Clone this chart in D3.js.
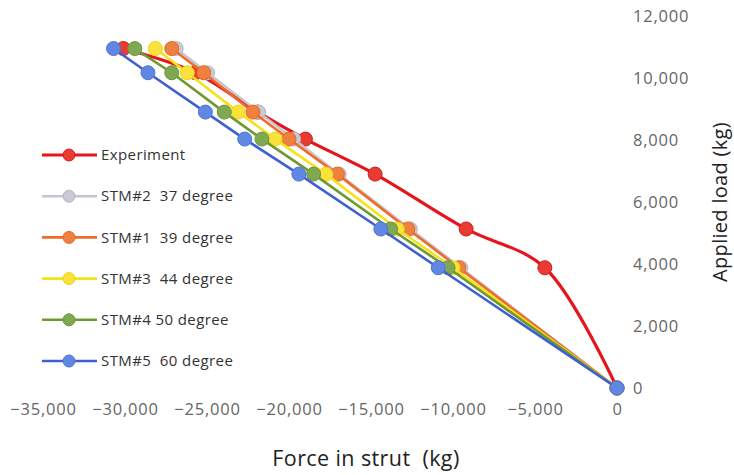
<!DOCTYPE html>
<html>
<head>
<meta charset="utf-8">
<script src="https://cdn.jsdelivr.net/npm/d3@7"></script>
<style>
  html, body { margin: 0; padding: 0; background: #fff; }
  svg { display: block; }
  svg text { white-space: pre; }
</style>
</head>
<body>
<svg id="chart" width="734" height="475"></svg>
<script>
// Applied load levels (kg), shared by every series
const loads = [0, 3880, 5130, 6900, 8030, 8900, 10170, 10950];

// Force in strut (kg) for each series at those load levels
const experiment = [0, -4400, -9200, -14750, -19000, -21900, -25700, -30100];
const stm2_37 = [0, -9520, -12600, -16940, -19720, -21850, -24970, -26880];
const stm1_39 = [0, -9650, -12750, -17050, -20000, -22200, -25200, -27150];
const stm3_44 = [0, -10000, -13400, -17750, -20850, -23100, -26200, -28150];
const stm4_50 = [0, -10300, -13800, -18500, -21650, -23950, -27150, -29400];
const stm5_60 = [0, -10900, -14400, -19400, -22700, -25100, -28600, -30700];

const seriesNames = ["Experiment", "STM#2  37 degree", "STM#1  39 degree",
                     "STM#3  44 degree", "STM#4 50 degree", "STM#5  60 degree"];

const xTicks = [-35000, -30000, -25000, -20000, -15000, -10000, -5000, 0];
const yTicks = [0, 2000, 4000, 6000, 8000, 10000, 12000];

const styles = [
  { line: "#e8141c", fill: "#ea3b32", stroke: "#d01a1a", width: 3.2, smooth: true },
  { line: "#c4c6d0", fill: "#c9cad4", stroke: "#b4b6c2", width: 2.4 },
  { line: "#f06a2a", fill: "#f0803e", stroke: "#e4662a", width: 2.6 },
  { line: "#f6e21a", fill: "#fbe23a", stroke: "#ecd21a", width: 2.6 },
  { line: "#6e9a30", fill: "#7fa852", stroke: "#6c963c", width: 2.6 },
  { line: "#3f5fd2", fill: "#6088e2", stroke: "#4f74d4", width: 2.6 }
];

const seriesValues = [experiment, stm2_37, stm1_39, stm3_44, stm4_50, stm5_60];
const series = seriesNames.map((name, i) => ({
  name,
  style: styles[i],
  points: seriesValues[i].map((f, j) => ({ force: f, load: loads[j] }))
}));

const svg = d3.select("#chart");

const x = d3.scaleLinear().domain([-35000, 0]).range([43, 617]);
const y = d3.scaleLinear().domain([0, 12000]).range([388, 16]);

const fmt = d3.format(",");
const fontFamily = "'Open Sans', Lato, 'Liberation Sans', sans-serif";

// Horizontal axis: labels only
const xAxis = d3.axisBottom(x).tickValues(xTicks).tickFormat(fmt).tickSize(0).tickPadding(0);
const gx = svg.append("g").attr("transform", "translate(0,403)").call(xAxis);
gx.select(".domain").remove();
gx.selectAll("text")
  .attr("font-family", fontFamily)
  .attr("font-size", 16.5)
  .attr("letter-spacing", 0.8)
  .attr("fill", "#666");

// Vertical axis on the right: labels only
const yAxis = d3.axisRight(y).tickValues(yTicks).tickFormat(fmt).tickSize(0).tickPadding(0);
const gy = svg.append("g").attr("transform", "translate(633,0)").call(yAxis);
gy.select(".domain").remove();
gy.selectAll("text")
  .attr("font-family", fontFamily)
  .attr("font-size", 16.5)
  .attr("letter-spacing", 0.8)
  .attr("fill", "#666");

// Axis titles
svg.append("text")
  .attr("x", 366).attr("y", 466)
  .attr("text-anchor", "middle")
  .attr("font-family", fontFamily)
  .attr("font-size", 21.5)
  .attr("letter-spacing", 0.4)
  .attr("fill", "#222")
  .text("Force in strut  (kg)");

svg.append("text")
  .attr("transform", "translate(727,202) rotate(-90)")
  .attr("text-anchor", "middle")
  .attr("font-family", fontFamily)
  .attr("font-size", 20)
  .attr("letter-spacing", 0.3)
  .attr("fill", "#222")
  .text("Applied load (kg)");

// Series lines and markers
const plot = svg.append("g");
series.forEach(s => {
  const line = d3.line()
    .x(d => x(d.force))
    .y(d => y(d.load))
    .curve(s.style.smooth ? d3.curveCatmullRom.alpha(0.5) : d3.curveLinear);
  const g = plot.append("g");
  g.append("path")
    .datum(s.points)
    .attr("d", line)
    .attr("fill", "none")
    .attr("stroke", s.style.line)
    .attr("stroke-width", s.style.width)
    .attr("stroke-linejoin", "round");
  g.selectAll("circle")
    .data(s.points)
    .join("circle")
    .attr("cx", d => x(d.force))
    .attr("cy", d => y(d.load))
    .attr("r", 7)
    .attr("fill", s.style.fill)
    .attr("stroke", s.style.stroke)
    .attr("stroke-width", 1);
});

// Legend
const legend = svg.append("g");
series.forEach((s, i) => {
  const ly = 155 + i * 41.2;
  const row = legend.append("g").attr("transform", `translate(0,${ly})`);
  row.append("line")
    .attr("x1", 42).attr("x2", 97)
    .attr("y1", 0).attr("y2", 0)
    .attr("stroke", s.style.line)
    .attr("stroke-width", s.style.width);
  row.append("circle")
    .attr("cx", 69).attr("cy", 0).attr("r", 6)
    .attr("fill", s.style.fill)
    .attr("stroke", s.style.stroke)
    .attr("stroke-width", 1);
  row.append("text")
    .attr("x", 101).attr("y", 0)
    .attr("dy", "0.35em")
    .attr("font-family", fontFamily)
    .attr("font-size", 15)
    .attr("letter-spacing", 0.4)
    .attr("fill", "#333")
    .text(s.name);
});
</script>
</body>
</html>
